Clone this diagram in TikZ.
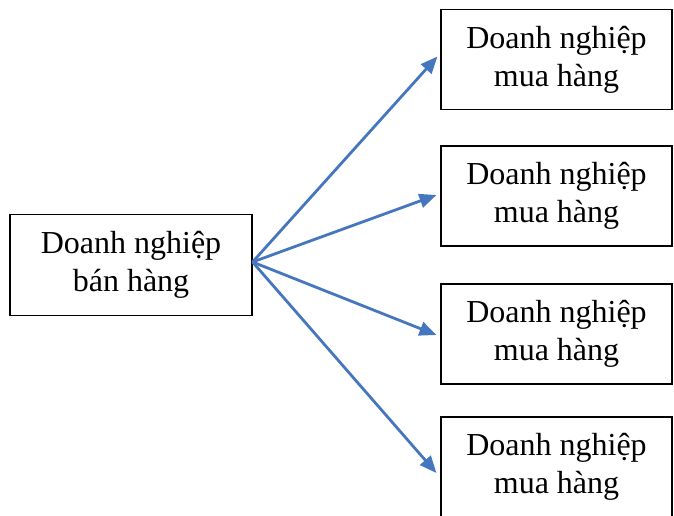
\documentclass[tikz,border=0pt]{standalone}
\usepackage{fontspec}
\setmainfont{Liberation Serif}
\usetikzlibrary{arrows.meta,positioning}
\definecolor{Ink}{HTML}{000000}
\definecolor{Flow}{HTML}{4677BE}

\tikzset{
  firm/.style={draw=Ink,line width=1.1pt,fill=white,align=center,inner sep=0pt,
    font=\fontsize{32}{38}\selectfont},
  seller/.style={firm,minimum width=242pt,minimum height=101pt},
  buyer/.style={firm,minimum width=231pt,minimum height=100pt},
  flow/.style={draw=Flow,line width=2.8pt,-{Triangle[length=17pt,width=14pt]}}
}

\begin{document}
\begin{tikzpicture}[x=1pt,y=-1pt]
\useasboundingbox (0,0) rectangle (674,515);
\clip (0,0) rectangle (674,515);
% seller on the left
\node[seller] (ban) at (131,265) {Doanh nghiệp\\bán hàng};
% buyers on the right
\node[buyer] (mua1) at (556.5,59.5) {Doanh nghiệp\\mua hàng};
\node[buyer] (mua2) at (556.5,196) {Doanh nghiệp\\mua hàng};
\node[buyer] (mua3) at (556.5,334) {Doanh nghiệp\\mua hàng};
\node[buyer] (mua4) at (556.5,467) {Doanh nghiệp\\mua hàng};
% flows
\coordinate (from) at ([yshift=3pt]ban.east);
\draw[flow] (from) -- ([xshift=-3pt,yshift=3pt]mua1.west);
\draw[flow] (from) -- ([xshift=-4pt,yshift=1pt]mua2.west);
\draw[flow] (from) -- ([xshift=-4pt,yshift=-1pt]mua3.west);
\draw[flow] (from) -- ([xshift=-4pt,yshift=-6pt]mua4.west);
\end{tikzpicture}
\end{document}
